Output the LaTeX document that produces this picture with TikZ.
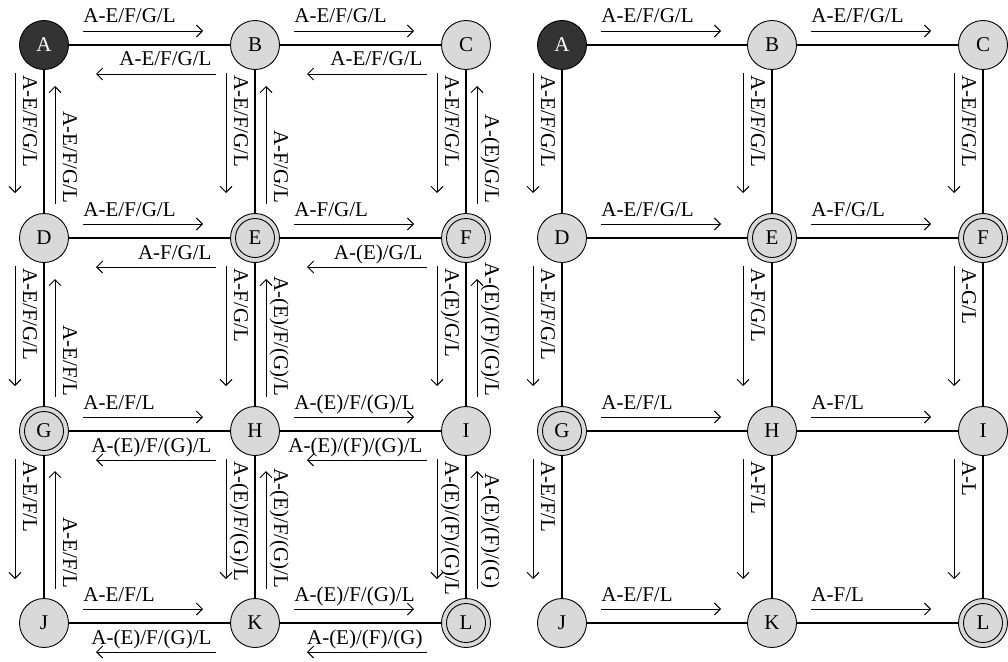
\documentclass[tikz,border=0pt]{standalone}
\usepackage{fontspec}
\setmainfont{Liberation Serif}
\usetikzlibrary{calc,arrows.meta}

\definecolor{nodegray}{HTML}{D9D9D9}
\definecolor{startgray}{HTML}{333333}

\tikzset{
  stnode/.style={circle,draw,fill=nodegray,minimum size=49pt,inner sep=0pt,line width=0.9pt},
  ststart/.style={stnode,fill=startgray,text=white},
  stfinal/.style={stnode,path picture={\draw[line width=0.9pt] (path picture bounding box.center) circle (19.5pt);}},
  link/.style={line width=1.1pt},
  hlbl/.style={inner sep=0pt},
  vlbl/.style={inner sep=0pt,rotate=-90},
}

% label + arrow along a link; #1 node, #2 label name, #3 text
\newcommand{\hfwd}[3]{%
  \node[hlbl,anchor=base west] (#2) at ($(#1)+(39,-22)$) {#3};
  \draw[->] ([yshift=-8pt]#2.base west) -- ++(120,0);}
\newcommand{\hback}[3]{%
  \node[hlbl,anchor=base east] (#2) at ($(#1)+(-43,21)$) {#3};
  \draw[->] ([xshift=4pt,yshift=-8pt]#2.base east) -- ++(-120,0);}
\newcommand{\vdown}[3]{%
  \node[vlbl,anchor=base west] (#2) at ($(#1)+(-21,30)$) {#3};
  \draw[->] ($(#2.base west)+(-8,-2)$) -- ++(0,120);}
\newcommand{\vup}[3]{%
  \node[vlbl,anchor=base east] (#2) at ($(#1)+(19,-34)$) {#3};
  \draw[->] ($(#2.base east)+(-8,0)$) -- ++(0,-118);}

\begin{document}
\begin{tikzpicture}[x=1pt,y=-1pt,>={Straight Barb[length=6pt,width=12pt]},
  every path/.style={line width=0.9pt},font=\fontsize{21}{25}\selectfont]
  \useasboundingbox (0,0) rectangle (1008,661);

  % left grid
  \node[ststart] (A) at (44,45) {A};
  \node[stnode]  (B) at (255,45) {B};
  \node[stnode]  (C) at (466,45) {C};
  \node[stnode]  (D) at (44,238) {D};
  \node[stfinal] (E) at (255,238) {E};
  \node[stfinal] (F) at (466,238) {F};
  \node[stfinal] (G) at (44,431) {G};
  \node[stnode]  (H) at (255,431) {H};
  \node[stnode]  (I) at (466,431) {I};
  \node[stnode]  (J) at (44,623) {J};
  \node[stnode]  (K) at (255,623) {K};
  \node[stfinal] (L) at (466,623) {L};

  \draw[link] (A) -- (B) (B) -- (C) (D) -- (E) (E) -- (F)
              (G) -- (H) (H) -- (I) (J) -- (K) (K) -- (L)
              (A) -- (D) (D) -- (G) (G) -- (J)
              (B) -- (E) (E) -- (H) (H) -- (K)
              (C) -- (F) (F) -- (I) (I) -- (L);

  \hfwd{A}{AB}{A-E/F/G/L}         \hback{B}{BA}{A-E/F/G/L}
  \hfwd{B}{BC}{A-E/F/G/L}         \hback{C}{CB}{A-E/F/G/L}
  \hfwd{D}{DE}{A-E/F/G/L}         \hback{E}{ED}{A-F/G/L}
  \hfwd{E}{EF}{A-F/G/L}           \hback{F}{FE}{A-(E)/G/L}
  \hfwd{G}{GH}{A-E/F/L}           \hback{H}{HG}{A-(E)/F/(G)/L}
  \hfwd{H}{HI}{A-(E)/F/(G)/L}     \hback{I}{IH}{A-(E)/(F)/(G)/L}
  \hfwd{J}{JK}{A-E/F/L}           \hback{K}{KJ}{A-(E)/F/(G)/L}
  \hfwd{K}{KL}{A-(E)/F/(G)/L}     \hback{L}{LK}{A-(E)/(F)/(G)}

  \vdown{A}{AD}{A-E/F/G/L}        \vup{D}{DA}{A-E/F/G/L}
  \vdown{B}{BE}{A-E/F/G/L}        \vup{E}{EB}{A-F/G/L}
  \vdown{C}{CF}{A-E/F/G/L}        \vup{F}{FC}{A-(E)/G/L}
  \vdown{D}{DG}{A-E/F/G/L}        \vup{G}{GD}{A-E/F/L}
  \vdown{E}{EH}{A-F/G/L}          \vup{H}{HE}{A-(E)/F/(G)/L}
  \vdown{F}{FI}{A-(E)/G/L}        \vup{I}{IF}{A-(E)/(F)/(G)/L}
  \vdown{G}{GJ}{A-E/F/L}          \vup{J}{JG}{A-E/F/L}
  \vdown{H}{HK}{A-(E)/F/(G)/L}    \vup{K}{KH}{A-(E)/F/(G)/L}
  \vdown{I}{IL}{A-(E)/(F)/(G)/L}  \vup{L}{LI}{A-(E)/(F)/(G)}

  % right grid
  \node[ststart] (rA) at (562,45) {A};
  \node[stnode]  (rB) at (772,45) {B};
  \node[stnode]  (rC) at (983,45) {C};
  \node[stnode]  (rD) at (562,238) {D};
  \node[stfinal] (rE) at (772,238) {E};
  \node[stfinal] (rF) at (983,238) {F};
  \node[stfinal] (rG) at (562,431) {G};
  \node[stnode]  (rH) at (772,431) {H};
  \node[stnode]  (rI) at (983,431) {I};
  \node[stnode]  (rJ) at (562,623) {J};
  \node[stnode]  (rK) at (772,623) {K};
  \node[stfinal] (rL) at (983,623) {L};

  \draw[link] (rA) -- (rB) (rB) -- (rC) (rD) -- (rE) (rE) -- (rF)
              (rG) -- (rH) (rH) -- (rI) (rJ) -- (rK) (rK) -- (rL)
              (rA) -- (rD) (rD) -- (rG) (rG) -- (rJ)
              (rB) -- (rE) (rE) -- (rH) (rH) -- (rK)
              (rC) -- (rF) (rF) -- (rI) (rI) -- (rL);

  \hfwd{rA}{rAB}{A-E/F/G/L}
  \hfwd{rB}{rBC}{A-E/F/G/L}
  \hfwd{rD}{rDE}{A-E/F/G/L}
  \hfwd{rE}{rEF}{A-F/G/L}
  \hfwd{rG}{rGH}{A-E/F/L}
  \hfwd{rH}{rHI}{A-F/L}
  \hfwd{rJ}{rJK}{A-E/F/L}
  \hfwd{rK}{rKL}{A-F/L}

  \vdown{rA}{rAD}{A-E/F/G/L}
  \vdown{rB}{rBE}{A-E/F/G/L}
  \vdown{rC}{rCF}{A-E/F/G/L}
  \vdown{rD}{rDG}{A-E/F/G/L}
  \vdown{rE}{rEH}{A-F/G/L}
  \vdown{rF}{rFI}{A-G/L}
  \vdown{rG}{rGJ}{A-E/F/L}
  \vdown{rH}{rHK}{A-F/L}
  \vdown{rI}{rIL}{A-L}
\end{tikzpicture}
\end{document}
